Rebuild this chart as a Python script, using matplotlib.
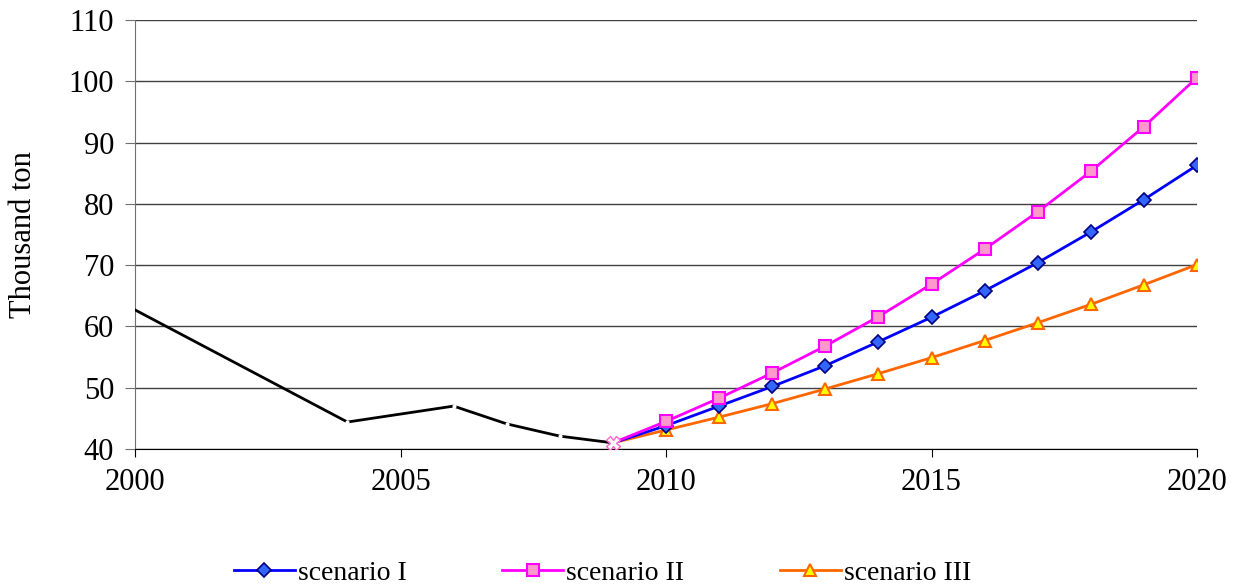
import matplotlib.pyplot as plt
import numpy as np

plt.rcParams['font.family'] = ['Liberation Serif', 'DejaVu Serif']

hist_years = [2000, 2004, 2006, 2007, 2008, 2009]
hist_vals = [62.7, 44.4, 47.0, 44.1, 42.1, 41.0]

years = list(range(2009, 2021))
s1 = [41.0, 43.8, 47.0, 50.2, 53.6, 57.5, 61.5, 65.8, 70.4, 75.4, 80.7, 86.3]
s2 = [41.0, 44.5, 48.3, 52.4, 56.8, 61.6, 66.9, 72.6, 78.7, 85.3, 92.6, 100.6]
s3 = [41.0, 43.1, 45.2, 47.4, 49.8, 52.3, 54.9, 57.7, 60.6, 63.6, 66.8, 70.1]

fig = plt.figure(figsize=(12.49, 5.88), dpi=100)
ax = fig.add_axes([135/1249, 1-449/588, (1197-135)/1249, (449-20)/588])

# historical line, small white breaks at data points
ax.plot(hist_years, hist_vals, color='black', linewidth=2, zorder=3)
ax.plot(hist_years[1:-1], hist_vals[1:-1], linestyle='none', marker='o',
        markersize=3, markerfacecolor='white', markeredgecolor='none', zorder=4)

ax.plot(years, s1, color='#0000FF', linewidth=2, marker='D', markersize=7.5,
        markerfacecolor='#3366FF', markeredgecolor='#000080', markeredgewidth=1.2,
        markevery=range(1, len(years)), label='scenario I', zorder=5)
ax.plot(years, s2, color='#FF00FF', linewidth=2, marker='s', markersize=9,
        markerfacecolor='#FF99CC', markeredgecolor='#FF00FF', markeredgewidth=1.5,
        markevery=range(1, len(years)), label='scenario II', zorder=6)
ax.plot(years, s3, color='#FF6600', linewidth=2, marker='^', markersize=9,
        markerfacecolor='#FFFF00', markeredgecolor='#FF6600', markeredgewidth=1.5,
        markevery=range(1, len(years)), label='scenario III', zorder=4)
ax.plot([2009], [41.0], linestyle='none', marker='X', markersize=10,
        markerfacecolor='white', markeredgecolor='#FF66CC', markeredgewidth=1, zorder=7)

ax.set_xlim(2000, 2020)
ax.set_ylim(40, 110)
ax.set_xticks([2000, 2005, 2010, 2015, 2020])
ax.set_yticks(np.arange(40, 111, 10))
ax.yaxis.grid(True, color='#404040', linewidth=1)
ax.set_axisbelow(True)
for s in ['top', 'right']:
    ax.spines[s].set_visible(False)
ax.spines['left'].set_color('#707070')
ax.spines['bottom'].set_color('black')
ax.tick_params(axis='both', labelsize=22, direction='out', length=6, colors='black')
ax.tick_params(axis='y', length=7, color='#707070', pad=8)
ax.tick_params(axis='x', pad=8)
ax.set_ylabel('Thousand ton', fontsize=22, labelpad=22)

leg = ax.legend(loc='center', bbox_to_anchor=(0.44, -0.29), ncol=3, frameon=False,
                fontsize=20, handlelength=2.2, columnspacing=3.45, handletextpad=0.1)

fig.savefig('out.png', dpi=100)
